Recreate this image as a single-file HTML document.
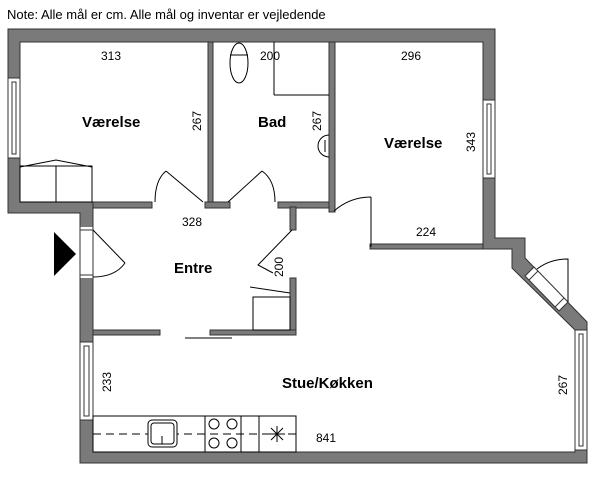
<!DOCTYPE html>
<html><head><meta charset="utf-8"><style>
html,body{margin:0;padding:0;background:#fff;}
svg{display:block;}
text{font-family:"Liberation Sans",sans-serif;fill:#000;}
.lbl{font-size:12px;}
.big{font-size:15px;font-weight:bold;}
</style></head><body>
<svg width="600" height="477" viewBox="0 0 600 477" xmlns="http://www.w3.org/2000/svg">
<text x="7" y="19" font-size="13">Note: Alle mål er cm. Alle mål og inventar er vejledende</text>
<g fill="#7a7a7a" stroke="#333" stroke-width="1">
<path fill-rule="evenodd" d="M8 29 H495 V238 H525 V258 L587 322 V463 H80 V213 H8 Z M20 42 V202 H93 V452 H575 V330 L512 268 V249 H483 V42 Z"/>
<rect x="93" y="202" width="59" height="6"/>
<rect x="208" y="42" width="5" height="166"/>
<rect x="205" y="202" width="25" height="6"/>
<rect x="278" y="202" width="57" height="6"/>
<rect x="329" y="42" width="6" height="170"/>
<rect x="370" y="244" width="113" height="5"/>
<rect x="290" y="207" width="6" height="23"/>
<rect x="290" y="278" width="6" height="57"/>
<rect x="93" y="330" width="67" height="5"/>
<rect x="210" y="330" width="86" height="5"/>
</g>
<g fill="#fff" stroke="#333" stroke-width="1">
<rect x="8" y="78" width="12" height="80"/>
<rect x="12" y="82" width="4" height="72"/>
<rect x="483" y="100" width="12" height="78"/>
<rect x="487" y="104" width="4" height="70"/>
<rect x="80" y="227" width="13" height="51" stroke="none"/>
<line x1="80" y1="227" x2="80" y2="278"/><line x1="93" y1="227" x2="93" y2="278"/>
<line x1="80" y1="230" x2="93" y2="230"/><line x1="80" y1="275" x2="93" y2="275"/>
<rect x="80" y="342" width="13" height="78"/>
<rect x="84" y="346" width="5" height="70"/>
<rect x="575" y="330" width="12" height="120"/>
<rect x="579" y="334" width="4" height="112"/>
<polygon points="534,267 568,302 559,311 525,276"/>
<line x1="538" y1="271" x2="529" y2="280"/>
<line x1="564" y1="298" x2="555" y2="307"/>
</g>
<g fill="none" stroke="#000" stroke-width="1">
<rect x="20" y="166" width="72" height="36"/>
<line x1="56" y1="166" x2="56" y2="202"/>
<polyline points="20,167 56,160 92,167"/>
<line x1="203" y1="202" x2="166" y2="171"/><path d="M155 202 Q155 180 166 171"/>
<line x1="228" y1="202" x2="262" y2="171"/><path d="M275 202 Q275 180 262 171"/>
<line x1="371" y1="197" x2="371" y2="247"/><path d="M334 211 Q350 197 371 197"/>
<polyline points="292,230 258,265 273,273"/>
<line x1="93" y1="230" x2="125" y2="263"/><path d="M125 263 Q115 277 93 277"/>
<rect x="253" y="297" width="37" height="33"/>
<line x1="250" y1="287" x2="290" y2="293"/>
<line x1="185" y1="338" x2="232" y2="338"/>
<ellipse cx="239" cy="63" rx="9" ry="20"/>
<line x1="230" y1="55" x2="248" y2="55"/>
<line x1="274" y1="42" x2="274" y2="95"/><line x1="274" y1="95" x2="329" y2="95"/>
<path d="M329 135 A11 11 0 1 0 329 157"/>
<line x1="325" y1="140" x2="325" y2="152"/>
<path d="M537 269 Q550 259 568 259 L568 302"/>
<rect x="93" y="416" width="203" height="36"/>
<line x1="93" y1="434" x2="296" y2="434" stroke-dasharray="8,5"/>
<rect x="148" y="420" width="29" height="27" rx="4" fill="#fff"/>
<rect x="151" y="423" width="23" height="21" rx="3"/>
<line x1="162" y1="436" x2="162" y2="444"/>
<line x1="205" y1="416" x2="205" y2="452"/><line x1="241" y1="416" x2="241" y2="452"/>
<line x1="259" y1="416" x2="259" y2="452"/>
<circle cx="214" cy="424" r="5" fill="#fff"/><circle cx="232" cy="424" r="5" fill="#fff"/>
<circle cx="214" cy="443" r="5" fill="#fff"/><circle cx="232" cy="443" r="5" fill="#fff"/>
<line x1="277" y1="426" x2="277" y2="442"/><line x1="269" y1="434" x2="285" y2="434"/>
<line x1="271" y1="428" x2="283" y2="440"/><line x1="283" y1="428" x2="271" y2="440"/>
</g>
<polygon points="54,232 76,254 54,276" fill="#000"/>
<g class="lbl">
<text x="101" y="60" class="lbl">313</text>
<text x="260" y="60" class="lbl">200</text>
<text x="401" y="60" class="lbl">296</text>
<text x="182" y="226" class="lbl">328</text>
<text x="416" y="236" class="lbl">224</text>
<text x="316" y="442" class="lbl">841</text>
<text class="lbl" transform="translate(201,131) rotate(-90)">267</text>
<text class="lbl" transform="translate(321,131) rotate(-90)">267</text>
<text class="lbl" transform="translate(475,152) rotate(-90)">343</text>
<text class="lbl" transform="translate(283,277) rotate(-90)">200</text>
<text class="lbl" transform="translate(111,392) rotate(-90)">233</text>
<text class="lbl" transform="translate(567,395) rotate(-90)">267</text>
</g>
<text x="82" y="127" class="big">Værelse</text>
<text x="258" y="127" class="big">Bad</text>
<text x="384" y="148" class="big">Værelse</text>
<text x="174" y="273" class="big">Entre</text>
<text x="282" y="388" class="big">Stue/Køkken</text>
</svg>
</body></html>
